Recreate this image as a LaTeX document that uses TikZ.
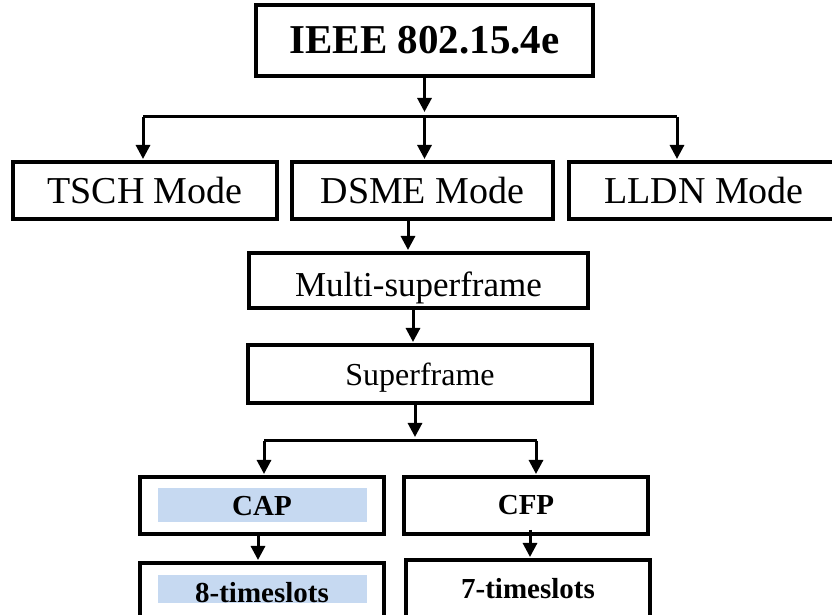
\documentclass[tikz,border=0pt]{standalone}
\usepackage{fontspec}
\setmainfont{Liberation Serif}
\usepackage{tikz}
\usetikzlibrary{arrows.meta,positioning}
\usepackage{xcolor}
\definecolor{slotblue}{RGB}{198,217,241}

\begin{document}
\begin{tikzpicture}[
        x=1pt, y=1pt,
        node distance=20pt,
        box/.style={draw, rectangle, line width=3.5pt, inner sep=0pt, outer sep=0pt, align=center, minimum height=57pt},
        mode/.style={box, minimum width=264pt, font=\fontsize{38}{40}\selectfont},
        slot/.style={box, minimum width=244pt, font=\bfseries\fontsize{29}{31}\selectfont},
        hl/.style={fill=slotblue, inner xsep=0pt, inner ysep=0pt, minimum width=209pt, font=\bfseries\fontsize{29}{31}\selectfont},
        line/.style={line width=3pt},
        arr/.style={-{Triangle[length=14pt,width=14pt]}, line width=3pt, shorten >=3pt}
    ]
        \useasboundingbox (0,0) rectangle (832,615);

        \node[box, minimum width=337pt, minimum height=71pt, font=\bfseries\fontsize{41}{43}\selectfont] (ieee) at (424.5,574.5) {IEEE 802.15.4e};

        \node[mode, minimum width=261pt, below=86pt of ieee, xshift=-2pt] (dsme) {DSME Mode};
        \node[mode, left=15pt of dsme] (tsch) {TSCH Mode};
        \node[mode, minimum width=270pt, right=16pt of dsme] (lldn) {LLDN Mode};

        \coordinate[below=41pt of ieee] (fork1);
        \coordinate[left=281.5pt of fork1] (fork1l);
        \coordinate[right=252.5pt of fork1] (fork1r);

        \draw[arr, shorten >=5pt] (ieee) -- (fork1);
        \draw[line] (fork1l) -- (fork1r);
        \draw[arr] (fork1l) -- (fork1l |- tsch.north);
        \draw[arr] (fork1) -- (fork1 |- dsme.north);
        \draw[arr] (fork1r) -- (fork1r |- lldn.north);

        \node[box, minimum width=339pt, minimum height=55pt, text height=33pt, text depth=0pt, font=\fontsize{35}{37}\selectfont, below=34pt of dsme, xshift=-4pt] (multi) {Multi-superframe};
        \node[box, minimum width=344pt, minimum height=58pt, text depth=0pt, font=\fontsize{32}{34}\selectfont, below=37pt of multi, xshift=1.5pt] (super) {Superframe};

        \draw[arr] ([xshift=-14.5pt]dsme.south) -- ([xshift=-10.5pt]multi.north);
        \draw[arr] ([xshift=-5.5pt]multi.south) -- ([xshift=-7pt]super.north);

        \node[slot, below=74pt of super, xshift=-158pt] (cap) {};
        \node[hl, text height=27pt, text depth=7pt] (capfill) at (cap) {CAP};
        \node[slot, right=20pt of cap] (cfp) {CFP};

        \coordinate[below=38pt of super, xshift=-5pt] (fork2);
        \coordinate[left=151pt of fork2] (fork2l);
        \coordinate[right=122pt of fork2] (fork2r);

        \draw[arr, shorten >=4pt] (super.south -| fork2) -- (fork2);
        \draw[line] (fork2l) -- (fork2r);
        \draw[arr] (fork2l) -- (fork2l |- cap.north);
        \draw[arr] ([xshift=-1pt]fork2r) -- ([xshift=-1pt]fork2r |- cfp.north);

        \node[slot, below=29pt of cap] (slots8) {};
        \node[hl, text height=28pt, text depth=0pt, yshift=2.5pt] (slots8fill) at (slots8) {8-timeslots};
        \node[slot, below=26pt of cfp, xshift=2pt] (slots7) {7-timeslots};

        \draw[arr] ([xshift=-4pt]cap.south) -- ([xshift=-4pt]slots8.north);
        \draw[arr] ([xshift=4pt,yshift=4pt]cfp.south) -- ([xshift=2pt]slots7.north);

    \end{tikzpicture}
\end{document}
